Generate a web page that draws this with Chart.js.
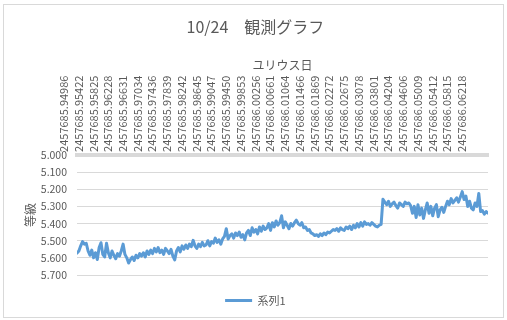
<!DOCTYPE html>
<html><head><meta charset="utf-8">
<script src="https://cdn.jsdelivr.net/npm/chart.js@4.4.0/dist/chart.umd.min.js"></script>
<style>
html,body{margin:0;padding:0;background:#fff;}
#wrap{position:relative;width:507px;height:320px;overflow:hidden;}
#frame{position:absolute;left:3px;top:4px;width:499px;height:312px;border:1px solid #d9d9d9;pointer-events:none;}
canvas{position:absolute;left:0;top:0;}
</style></head><body>
<div id="wrap"><canvas id="c" width="507" height="320"></canvas><div id="frame"></div></div>
<script>
const chartTitle = '10/24　観測グラフ';
const xAxisTitle = 'ユリウス日';
const yAxisTitle = '等級';
const seriesName = '系列1';
const labelStep = 8;
const tickLabels = [
  '2457685.94986','2457685.95422','2457685.95825','2457685.96228','2457685.96631',
  '2457685.97034','2457685.97436','2457685.97839','2457685.98242','2457685.98645',
  '2457685.99047','2457685.99450','2457685.99853','2457686.00256','2457686.00661',
  '2457686.01064','2457686.01466','2457686.01869','2457686.02272','2457686.02675',
  '2457686.03078','2457686.03801','2457686.04204','2457686.04606','2457686.05009',
  '2457686.05412','2457686.05815','2457686.06218'
];
const yTicks = [5.0, 5.1, 5.2, 5.3, 5.4, 5.5, 5.6, 5.7];
const magnitudes = [
  5.572, 5.560, 5.530, 5.505, 5.520, 5.515, 5.560, 5.585, 5.555, 5.600,
  5.570, 5.610, 5.540, 5.512, 5.580, 5.595, 5.515, 5.570, 5.600, 5.560,
  5.585, 5.605, 5.575, 5.590, 5.560, 5.520, 5.580, 5.600, 5.630, 5.610,
  5.595, 5.615, 5.585, 5.600, 5.575, 5.590, 5.570, 5.595, 5.560, 5.580,
  5.555, 5.575, 5.545, 5.565, 5.540, 5.570, 5.555, 5.580, 5.545, 5.560,
  5.575, 5.550, 5.590, 5.612, 5.560, 5.540, 5.565, 5.530, 5.550, 5.525,
  5.545, 5.520, 5.535, 5.498, 5.530, 5.545, 5.520, 5.535, 5.510, 5.530,
  5.525, 5.500, 5.530, 5.505, 5.515, 5.485, 5.510, 5.495, 5.520, 5.490,
  5.475, 5.430, 5.490, 5.470, 5.460, 5.485, 5.455, 5.470, 5.450, 5.480,
  5.465, 5.495, 5.455, 5.440, 5.470, 5.425, 5.450, 5.435, 5.460, 5.420,
  5.445, 5.415, 5.435, 5.425, 5.400, 5.440, 5.395, 5.420, 5.385, 5.410,
  5.395, 5.355, 5.425, 5.390, 5.410, 5.430, 5.400, 5.415, 5.395, 5.380,
  5.400, 5.410, 5.395, 5.425, 5.420, 5.440, 5.435, 5.455, 5.460, 5.470,
  5.465, 5.475, 5.460, 5.470, 5.455, 5.465, 5.450, 5.455, 5.445, 5.435,
  5.440, 5.430, 5.445, 5.425, 5.435, 5.440, 5.420, 5.430, 5.415, 5.435,
  5.410, 5.425, 5.400, 5.420, 5.395, 5.415, 5.390, 5.405, 5.400, 5.410,
  5.395, 5.405, 5.415, 5.420, 5.410, 5.405, 5.258, 5.275, 5.290, 5.270,
  5.300, 5.285, 5.275, 5.295, 5.310, 5.280, 5.290, 5.300, 5.275, 5.285,
  5.280, 5.295, 5.340, 5.300, 5.365, 5.290, 5.350, 5.310, 5.370, 5.320,
  5.280, 5.340, 5.300, 5.355, 5.310, 5.290, 5.360, 5.320, 5.305, 5.335,
  5.300, 5.270, 5.290, 5.255, 5.280, 5.265, 5.250, 5.275, 5.245, 5.214,
  5.260, 5.240, 5.300, 5.270, 5.310, 5.320, 5.280, 5.300, 5.225, 5.330,
  5.325, 5.345, 5.330, 5.340
];

const FONT = '"Noto Sans CJK JP", "Liberation Sans", sans-serif';
const GREY = '#595959';
Chart.defaults.font.family = FONT;
Chart.defaults.color = GREY;

function draw() {
  new Chart(document.getElementById('c'), {
    type: 'line',
    data: {
      datasets: [{
        label: seriesName,
        data: magnitudes.map((m, i) => ({ x: i, y: m })),
        borderColor: '#5b9bd5',
        backgroundColor: '#5b9bd5',
        borderWidth: 3,
        borderJoinStyle: 'round',
        borderCapStyle: 'round',
        pointRadius: 0,
        tension: 0,
        fill: false
      }]
    },
    options: {
      responsive: false,
      devicePixelRatio: 1,
      animation: false,
      layout: { padding: { top: 7, left: 22.8, right: 19, bottom: 4 } },
      plugins: {
        title: {
          display: true, text: chartTitle, color: GREY,
          font: { size: 16, weight: 'normal', family: FONT },
          padding: { top: 10, bottom: 22 }
        },
        legend: {
          position: 'bottom',
          labels: {
            usePointStyle: true, pointStyle: 'line', pointStyleWidth: 27,
            boxHeight: 11, color: GREY, font: { size: 11, family: FONT }, padding: 20
          }
        },
        tooltip: { enabled: false }
      },
      scales: {
        x: {
          type: 'linear', position: 'top',
          min: 0, max: magnitudes.length - 1,
          afterBuildTicks: (s) => { s.ticks = tickLabels.map((_, j) => ({ value: j * labelStep })); },
          ticks: {
            autoSkip: false, minRotation: 90, maxRotation: 90, padding: 3,
            color: GREY, font: { size: 11, family: FONT },
            callback: (v, i) => tickLabels[i]
          },
          grid: { display: false, drawTicks: false },
          border: { display: true, color: '#d9d9d9', width: 4 },
          title: { display: true, text: xAxisTitle, color: GREY, font: { size: 12, family: FONT }, padding: { top: 0, bottom: 0 } }
        },
        y: {
          reverse: true, min: yTicks[0], max: yTicks[yTicks.length - 1],
          afterBuildTicks: (s) => { s.ticks = yTicks.map(v => ({ value: v })); },
          ticks: { padding: 10, color: GREY, font: { size: 10.5, family: FONT }, callback: (v) => Number(v).toFixed(3) },
          grid: { color: '#d9d9d9', drawTicks: false, lineWidth: 1 },
          border: { display: false },
          title: { display: true, text: yAxisTitle, color: GREY, font: { size: 12, family: FONT }, padding: { top: 0, bottom: -6.4 } }
        }
      }
    }
  });
}
let done = false;
function go() { if (!done) { done = true; draw(); } }
Promise.all([
  document.fonts.load('16px "Noto Sans CJK JP"', '10/24観測グラフ'),
  document.fonts.load('11px "Noto Sans CJK JP"', '0123456789.')
]).then(go, go);
setTimeout(go, 800);
</script>
</body></html>
